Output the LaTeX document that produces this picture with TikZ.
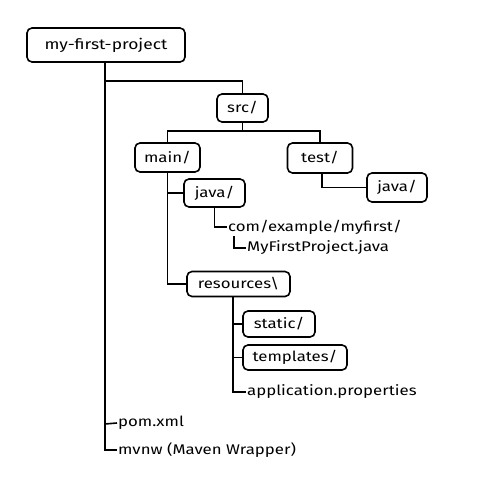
\documentclass[tikz,border=0pt]{standalone}
\usepackage{fontspec}
\setmainfont[FakeStretch=1.2]{Fira Sans}
\begin{document}
\begin{tikzpicture}[x=1pt,y=-1pt,
  box/.style={draw,rounded corners=5pt,line width=1.6pt,inner sep=0pt,font=\fontsize{14}{16}\selectfont},
  leaf/.style={inner sep=1pt,anchor=west,font=\fontsize{14}{16}\selectfont},
  conn/.style={line width=1.6pt}]
\useasboundingbox (0,0) rectangle (489,496);
\node[box,minimum width=158pt,minimum height=34pt,font=\fontsize{14.5}{16}\selectfont] (root) at (106,45) {my-first-project};
\node[box,minimum width=51pt,minimum height=28pt] (src) at (242.5,108) {src/};
\node[box,minimum width=65pt,minimum height=29pt] (main) at (167.5,157.5) {main/};
\node[box,minimum width=65pt,minimum height=30pt] (test) at (320,158) {test/};
\node[box,minimum width=61pt,minimum height=28pt] (javaM) at (214.5,193) {java/};
\node[box,minimum width=60pt,minimum height=29pt] (javaT) at (397,187.5) {java/};
\node[leaf] (com) at (227,227) {com/example/myfirst/};
\node[leaf] (mfp) at (246,248) {MyFirstProject.java};
\node[box,minimum width=103pt,minimum height=25pt] (res) at (238.5,284) {resources\textbackslash};
\node[box,minimum width=72pt,minimum height=26pt] (static) at (279,324) {static/};
\node[box,minimum width=104pt,minimum height=25pt] (tmpl) at (295,357.5) {templates/};
\node[leaf] (app) at (246,392) {application.properties};
\node[leaf] (pom) at (117,423) {pom.xml};
\node[leaf] (mvnw) at (117,450) {mvnw (Maven Wrapper)};
\coordinate (b1) at (105,81);
\coordinate (b2) at (242.5,131);
\coordinate (c1) at (234,236);
\coordinate (r1) at (233,296);
\coordinate (p1) at (105,424);
\draw[conn] (root.south -| b1) |- (mvnw.west);
\draw[conn] (p1) -- (pom.west);
\draw[conn] (b1) -| (src.north);
\draw[conn] (src.south) -- (b2);
\draw[conn] (main.north) |- (b2) -| (test.north);
\draw[conn] ([xshift=2pt]test.south) |- (javaT.west);
\draw[conn] (main.south) |- (javaM.west);
\draw[conn] (main.south) |- (res.west);
\draw[conn] (javaM.south) |- (com.west);
\draw[conn] (c1) |- (mfp.west);
\draw[conn] (r1) |- (static.west);
\draw[conn] (r1) |- (tmpl.west);
\draw[conn] (r1) |- (app.west);
\end{tikzpicture}
\end{document}
